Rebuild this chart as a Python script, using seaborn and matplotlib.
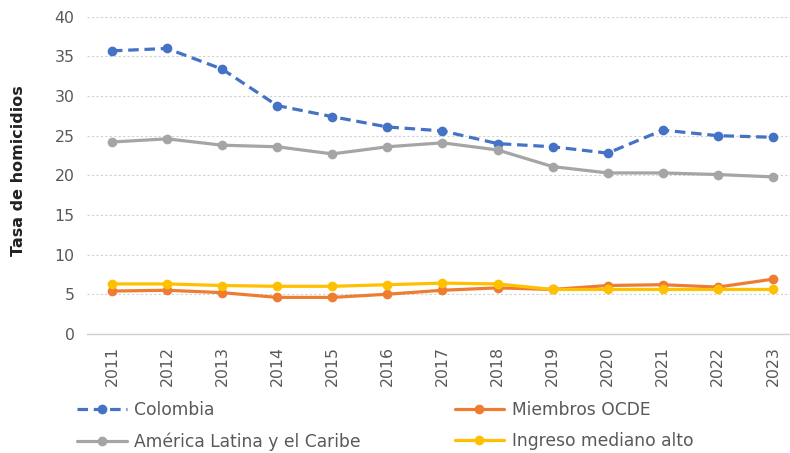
import pandas as pd
import matplotlib.pyplot as plt
import seaborn as sns

years = ['2011', '2012', '2013', '2014', '2015', '2016', '2017',
         '2018', '2019', '2020', '2021', '2022', '2023']
colombia = [35.7, 36.0, 33.4, 28.8, 27.4, 26.1, 25.6, 24.0, 23.6, 22.8, 25.7, 25.0, 24.8]
ocde = [5.4, 5.5, 5.2, 4.6, 4.6, 5.0, 5.5, 5.8, 5.6, 6.1, 6.2, 5.9, 6.9]
america_latina = [24.2, 24.6, 23.8, 23.6, 22.7, 23.6, 24.1, 23.2, 21.1, 20.3, 20.3, 20.1, 19.8]
ingreso_medio_alto = [6.3, 6.3, 6.1, 6.0, 6.0, 6.2, 6.4, 6.3, 5.6, 5.6, 5.6, 5.6, 5.6]

series = [
    ('Colombia', colombia, '#4472C4', (0, (3.3, 1.8))),
    ('Miembros OCDE', ocde, '#ED7D31', '-'),
    ('América Latina y el Caribe', america_latina, '#A5A5A5', '-'),
    ('Ingreso mediano alto', ingreso_medio_alto, '#FFC000', '-'),
]

sns.set_style('white')
plt.rcParams['font.family'] = ['DejaVu Sans']

fig = plt.figure(figsize=(7.9, 4.53), dpi=100)
ax = fig.add_axes([0.110, 0.263, 0.890, 0.7])

x = list(range(len(years)))
for name, vals, color, ls in series:
    sns.lineplot(x=x, y=vals, ax=ax, color=color, linestyle=ls, linewidth=2.3,
                 marker='o', markersize=7, markeredgewidth=0, label=name)

ax.set_ylim(0, 40)
ax.set_yticks(range(0, 41, 5))
ax.set_xlim(-0.454, 12.31)
ax.set_xticks(x)
ax.set_xticklabels(years, rotation=90)
ax.tick_params(axis='both', labelsize=11.3, colors='#595959', length=0)
ax.tick_params(axis='x', pad=9)
ax.tick_params(axis='y', pad=9)
ax.yaxis.grid(True, color='#D0D0D0', linestyle=(0, (2, 2)), linewidth=0.8)
for s in ['top', 'right', 'left']:
    ax.spines[s].set_visible(False)
ax.spines['bottom'].set_color('#D0D0D0')
ax.spines['bottom'].set_linewidth(1.0)
ax.set_ylabel('Tasa de homicidios', fontsize=11.5, fontweight='bold', color='#222222')
ax.yaxis.set_label_coords(-0.087, 0.515)

h, l = ax.get_legend_handles_labels()
ax.get_legend().remove()
order = [0, 2, 1, 3]
fig.legend([h[i] for i in order], [l[i] for i in order], ncol=2, frameon=False,
           loc='upper left', bbox_to_anchor=(77 / 790, 1 - 401 / 453),
           borderpad=0, borderaxespad=0,
           prop={'size': 12.3}, handlelength=2.9, handletextpad=0.45,
           columnspacing=5.5, labelspacing=0.78, labelcolor='#595959')

fig.savefig('out.png', dpi=100)
